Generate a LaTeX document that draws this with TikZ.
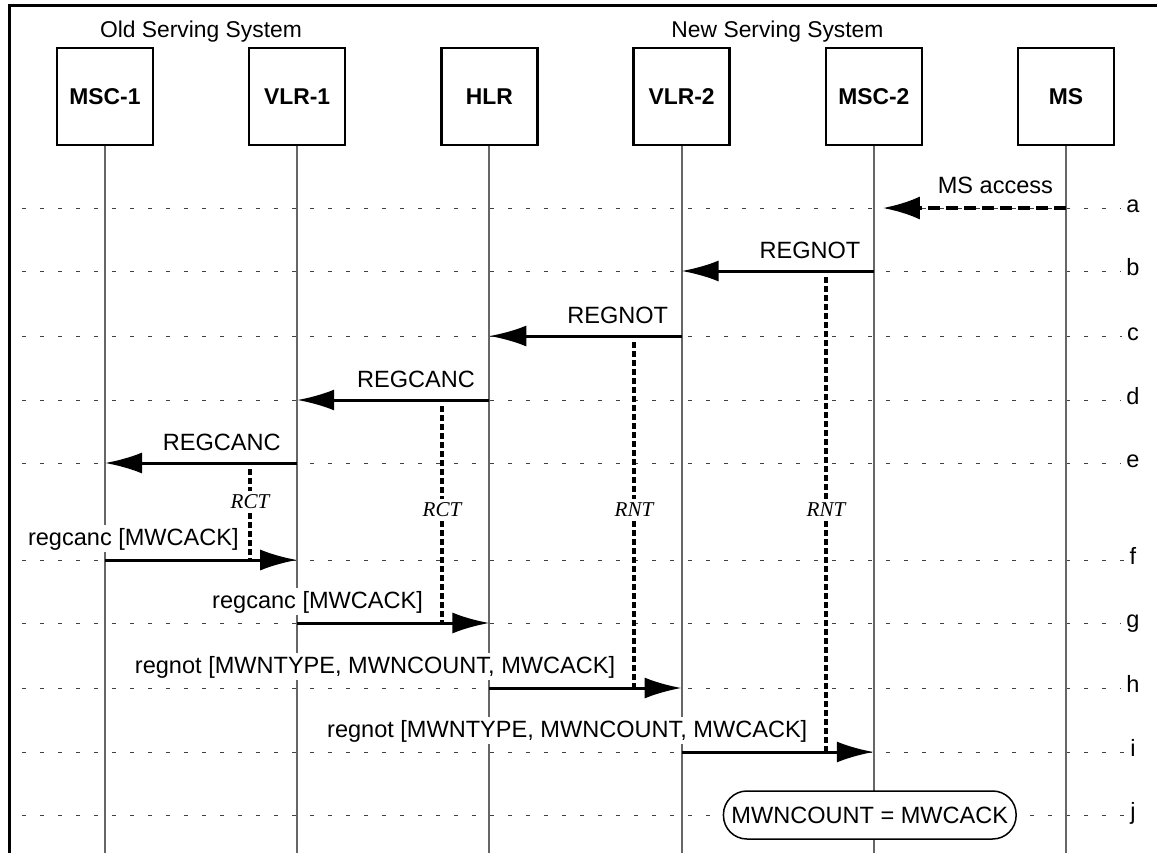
\documentclass[tikz,border=0pt]{standalone}
\usepackage{fontspec}
\setmainfont{Liberation Sans}
\newfontfamily\timerfam{Liberation Serif}
\usetikzlibrary{arrows.meta}
\newcommand\msgsize{\fontsize{13.4}{16}\selectfont}

\begin{document}
\begin{tikzpicture}[
    entity/.style = {draw, line width = 0.05cm, minimum width = 1.92cm, minimum height = 1.94cm, font = \fontsize{13}{15}\selectfont\bfseries},
    lifeline/.style = {draw = black!60, line width = 0.04cm},
    guide/.style = {draw = black!75, line width = 0.02cm, dash pattern = on 0.07cm off 0.29cm},
    msg/.style = {line width = 0.06cm, -{Latex[length = 0.74cm, width = 0.42cm]}},
    access/.style = {line width = 0.08cm, dash pattern = on 0.24cm off 0.12cm, -{Latex[length = 0.74cm, width = 0.46cm]}},
    msglbl/.style = {font = \msgsize, fill = white, inner sep = 0.05cm},
    timer/.style = {line width = 0.065cm, dash pattern = on 0.11cm off 0.07cm},
    timerlbl/.style = {font = \timerfam\fontsize{12}{14}\selectfont\itshape, inner sep = 0.08cm},
    note/.style = {draw, fill = white, line width = 0.03cm, rounded corners = 0.47cm, minimum height = 0.96cm, inner xsep = 0.16cm, font = \msgsize},
    rowlbl/.style = {font = \msgsize, inner sep = 0.1cm}]
    \useasboundingbox (0,0) rectangle (23.14,-17.06);
    \coordinate (bottom) at (0,-17.06);

    % frame and system titles
    \draw[line width = 0.06cm] (0.2,-17.06) -- (0.2,-0.1) -- (23.14,-0.1);
    \node[font = \fontsize{13}{15}\selectfont, anchor = base] (oldsys) at (4.02,-0.76) {Old Serving System};
    \node[font = \fontsize{13}{15}\selectfont, anchor = base] (newsys) at (15.55,-0.76) {New Serving System};

    % rows
    \foreach \r/\y in {a/4.16, b/5.42, c/6.72, d/8.0, e/9.26, f/11.2, g/12.46, h/13.76, i/15.04, j/16.3}{
        \coordinate (r\r) at (0,-\y);
        \node[rowlbl, anchor = base] (l\r) at (22.66,-\y-0.09) {\r};
        \draw[guide] (0.44,-\y) -- (l\r.west |- r\r);
    }

    % entities
    \node[entity] (msc1) at (2.1,-1.93) {MSC-1};
    \node[entity] (vlr1) at (5.944,-1.93) {VLR-1};
    \node[entity] (hlr) at (9.788,-1.93) {HLR};
    \node[entity] (vlr2) at (13.632,-1.93) {VLR-2};
    \node[entity] (msc2) at (17.476,-1.93) {MSC-2};
    \node[entity] (ms) at (21.32,-1.93) {MS};
    \foreach \e in {msc1, vlr1, hlr, vlr2, msc2, ms}
        \draw[lifeline] (\e.south) -- (\e |- bottom);

    % messages
    \coordinate (acc) at ([xshift = 0.18cm]msc2 |- ra);
    \draw[access] (ms |- ra) -- node[msglbl, pos = 0, anchor = base east, xshift = -0.17cm, yshift = 0.3cm] {MS access} (acc);
    \draw[msg] (msc2 |- rb) -- node[msglbl, pos = 0, anchor = base east, xshift = -0.19cm, yshift = 0.26cm] {REGNOT} (vlr2 |- rb);
    \draw[msg] (vlr2 |- rc) -- node[msglbl, pos = 0, anchor = base east, xshift = -0.19cm, yshift = 0.26cm] {REGNOT} (hlr |- rc);
    \draw[msg] (hlr |- rd) -- node[msglbl, pos = 0, anchor = base east, xshift = -0.21cm, yshift = 0.26cm] {REGCANC} (vlr1 |- rd);
    \draw[msg] (vlr1 |- re) -- node[msglbl, pos = 0, anchor = base east, xshift = -0.25cm, yshift = 0.26cm] {REGCANC} (msc1 |- re);
    \draw[msg] (msc1 |- rf) -- node[msglbl, pos = 1, anchor = base east, xshift = -1.09cm, yshift = 0.3cm] {regcanc [MWCACK]} (vlr1 |- rf);
    \draw[msg] (vlr1 |- rg) -- node[msglbl, pos = 1, anchor = base east, xshift = -1.25cm, yshift = 0.3cm] {regcanc [MWCACK]} (hlr |- rg);
    \draw[msg] (hlr |- rh) -- node[msglbl, pos = 1, anchor = base east, xshift = -1.25cm, yshift = 0.3cm] {regnot [MWNTYPE, MWNCOUNT, MWCACK]} (vlr2 |- rh);
    \draw[msg] (vlr2 |- ri) -- node[msglbl, pos = 1, anchor = base east, xshift = -1.25cm, yshift = 0.3cm] {regnot [MWNTYPE, MWNCOUNT, MWCACK]} (msc2 |- ri);

    % timers
    \node[timerlbl] (rct1) at (5.0,-10.04) {RCT};
    \node[timerlbl] (rct2) at (8.84,-10.2) {RCT};
    \node[timerlbl] (rnt1) at (12.68,-10.2) {RNT};
    \node[timerlbl] (rnt2) at (16.52,-10.2) {RNT};
    \draw[timer] (rct1 |- re) ++(0,-0.12) -- (rct1.north);
    \draw[timer] (rct1.south) -- (rct1 |- rf);
    \draw[timer] (rct2 |- rd) ++(0,-0.12) -- (rct2.north);
    \draw[timer] (rct2.south) -- (rct2 |- rg);
    \draw[timer] (rnt1 |- rc) ++(0,-0.12) -- (rnt1.north);
    \draw[timer] (rnt1.south) -- (rnt1 |- rh);
    \draw[timer] (rnt2 |- rb) ++(0,-0.12) -- (rnt2.north);
    \draw[timer] (rnt2.south) -- (rnt2 |- ri);

    % result
    \node[note] (check) at ([xshift = -0.08cm]msc2 |- rj) {MWNCOUNT = MWCACK};
\end{tikzpicture}
\end{document}
